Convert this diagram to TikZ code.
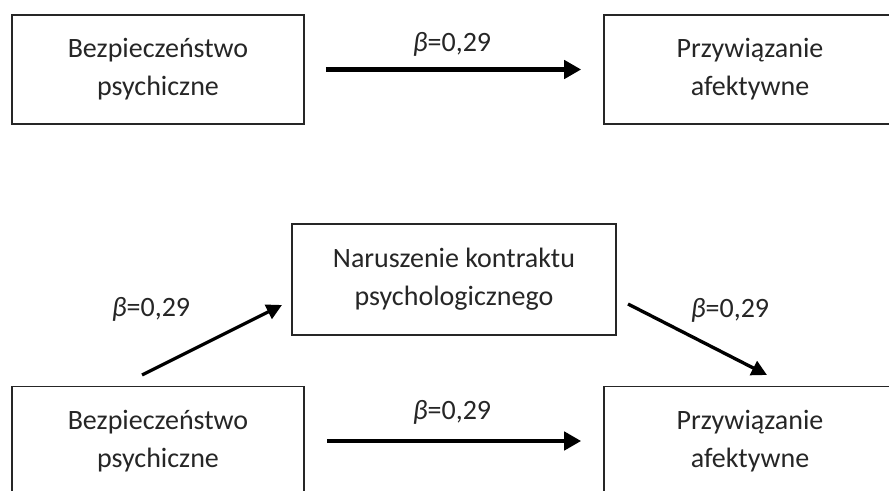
\documentclass[tikz,border=0pt]{standalone}
\usepackage{fontspec}
\setmainfont{Carlito}
\usetikzlibrary{arrows.meta}

\begin{document}
\begin{tikzpicture}[x=0.75pt,y=0.75pt,yscale=-1,xscale=1,
  box/.style={draw=black!85, line width=1.2pt, align=center, inner sep=0pt,
    minimum width=219pt, minimum height=81.75pt,
    font=\fontsize{21}{28.5}\selectfont, text=black!85},
  beta/.style={anchor=base, inner sep=0pt, font=\fontsize{21}{25}\selectfont, text=black!85},
  thickarrow/.style={line width=3.4pt, -{Triangle[length=12.75pt,width=13.5pt]}},
  slantarrow/.style={line width=2.5pt, -{Triangle[length=11.5pt,width=11.5pt]}}]
%set diagram size 889 x 491
\clip (0,0) rectangle (889,491);
\fill[white] (0,0) rectangle (889,491);

%Shape: Rectangle [top left]
\node[box] (bez1) at (158,69.5) {Bezpieczeństwo\\psychiczne};
%Shape: Rectangle [top right]
\node[box] (przy1) at (750,69.5) {Przywiązanie\\afektywne};
%Shape: Rectangle [middle]
\node[box, minimum width=243pt, minimum height=83.25pt] (narusz) at (454,279.5) {Naruszenie kontraktu\\psychologicznego};
%Shape: Rectangle [bottom left]
\node[box] (bez2) at (158,441) {Bezpieczeństwo\\psychiczne};
%Shape: Rectangle [bottom right]
\node[box] (przy2) at (750,441) {Przywiązanie\\afektywne};

%Arrows
\draw[thickarrow, shorten <=15.75pt, shorten >=16.5pt] (bez1.east) -- (przy1.west);
\draw[thickarrow, shorten <=17pt, shorten >=16.5pt] (bez2.east) -- (przy2.west);
\coordinate (lstart) at (142,375);
\coordinate (lend) at (282,305);
\coordinate (rstart) at (628,304);
\coordinate (rend) at (767,375);
\draw[slantarrow] (lstart) -- (lend);
\draw[slantarrow] (rstart) -- (rend);

% Text Node
\node[beta] (b1) at (452,52) {\textit{β}=0,29};
% Text Node
\node[beta] (b2) at (452,420) {\textit{β}=0,29};
% Text Node
\node[beta] (b3) at (151,317) {\textit{β}=0,29};
% Text Node
\node[beta] (b4) at (730,318) {\textit{β}=0,29};

\end{tikzpicture}
\end{document}
